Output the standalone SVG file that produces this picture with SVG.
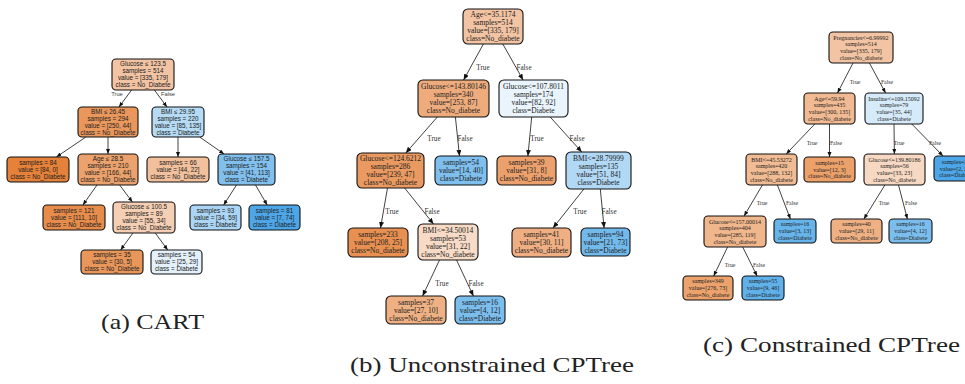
<svg xmlns="http://www.w3.org/2000/svg" width="965" height="384" viewBox="0 0 965 384">
<style>
rect.n{stroke:#111;stroke-width:1.1}
.ta{font-family:"Liberation Sans",Arial,sans-serif;font-size:6.3px;fill:#222;text-anchor:middle}
.tb{font-family:"Liberation Serif","Times New Roman",serif;font-size:7.5px;fill:#222;text-anchor:middle}
.tc{font-family:"Liberation Serif","Times New Roman",serif;font-size:6px;fill:#222;text-anchor:middle}
.la{font-family:"Liberation Sans",Arial,sans-serif;font-size:5.8px;fill:#444;text-anchor:middle}
.lb{font-family:"Liberation Serif","Times New Roman",serif;font-size:7.2px;fill:#333;text-anchor:middle}
.lc{font-family:"Liberation Serif","Times New Roman",serif;font-size:5.8px;fill:#333;text-anchor:middle}
.e{stroke:#111;stroke-width:0.8;fill:none}
.ea{marker-end:url(#ma)}
.eb{marker-end:url(#mb)}
.ec{marker-end:url(#mc)}
.cap{font-family:"Liberation Serif","DejaVu Serif",serif;font-size:21px;fill:#222}
</style>
<defs>
<marker id="ma" markerUnits="userSpaceOnUse" markerWidth="6" markerHeight="5" refX="5" refY="2" orient="auto"><path d="M0,0 L5,2 L0,4 z" fill="#111"/></marker>
<marker id="mb" markerUnits="userSpaceOnUse" markerWidth="7" markerHeight="6" refX="6" refY="2.5" orient="auto"><path d="M0,0 L6,2.5 L0,5 z" fill="#111"/></marker>
<marker id="mc" markerUnits="userSpaceOnUse" markerWidth="6" markerHeight="5" refX="5" refY="2" orient="auto"><path d="M0,0 L5,2 L0,4 z" fill="#111"/></marker>
</defs>

<!-- connectors -->
<g id="connectors">
<line class="e ea" x1="131.6" y1="90" x2="119" y2="107"/>
<line class="e ea" x1="154.4" y1="90" x2="167" y2="107"/>
<line class="e ea" x1="85.9" y1="137" x2="56.4" y2="157"/>
<line class="e ea" x1="108" y1="137" x2="108" y2="154"/>
<line class="e ea" x1="178" y1="137" x2="178" y2="157"/>
<line class="e ea" x1="199.6" y1="137" x2="224.1" y2="154"/>
<line class="e ea" x1="97" y1="185" x2="82.9" y2="205"/>
<line class="e ea" x1="119.6" y1="185" x2="132.4" y2="202"/>
<line class="e ea" x1="236.5" y1="185" x2="223.6" y2="205"/>
<line class="e ea" x1="255.5" y1="185" x2="267.2" y2="205"/>
<line class="e ea" x1="132.9" y1="233" x2="120.6" y2="250"/>
<line class="e ea" x1="155.3" y1="233" x2="167.7" y2="250"/>
<text class="la" x="117" y="96">True</text>
<text class="la" x="168" y="96">False</text>

<line class="e eb" x1="483.4" y1="44" x2="463.6" y2="80"/>
<line class="e eb" x1="502.8" y1="44" x2="523.1" y2="80"/>
<line class="e eb" x1="437.3" y1="117" x2="405.8" y2="153"/>
<line class="e eb" x1="455.4" y1="117" x2="459.5" y2="156"/>
<line class="e eb" x1="531.7" y1="117" x2="527.9" y2="156"/>
<line class="e eb" x1="550.2" y1="117" x2="581.8" y2="152"/>
<line class="e eb" x1="387.5" y1="188" x2="380.5" y2="228"/>
<line class="e eb" x1="404.6" y1="188" x2="433.5" y2="224"/>
<line class="e eb" x1="583.9" y1="189" x2="553" y2="228"/>
<line class="e eb" x1="600.3" y1="189" x2="604.1" y2="228"/>
<line class="e eb" x1="439.5" y1="260" x2="422.6" y2="296"/>
<line class="e eb" x1="456.5" y1="260" x2="473.4" y2="296"/>
<text class="lb" x="483" y="69.5">True</text>
<text class="lb" x="524" y="69.5">False</text>
<text class="lb" x="434" y="140.5">True</text>
<text class="lb" x="465" y="140.5">False</text>
<text class="lb" x="537" y="140.5">True</text>
<text class="lb" x="577" y="140.5">False</text>
<text class="lb" x="392" y="213.5">True</text>
<text class="lb" x="432" y="213.5">False</text>
<text class="lb" x="580" y="213.5">True</text>
<text class="lb" x="609" y="213.5">False</text>
<text class="lb" x="442" y="285.5">True</text>
<text class="lb" x="476" y="285.5">False</text>

<line class="e ec" x1="853" y1="63" x2="837.5" y2="93"/>
<line class="e ec" x1="869.4" y1="63" x2="885.6" y2="93"/>
<line class="e ec" x1="814.8" y1="124" x2="786.2" y2="154"/>
<line class="e ec" x1="829.5" y1="124" x2="829.5" y2="157"/>
<line class="e ec" x1="894" y1="124" x2="894.4" y2="154"/>
<line class="e ec" x1="911.8" y1="124" x2="943" y2="156"/>
<line class="e ec" x1="762.4" y1="185" x2="744.1" y2="216"/>
<line class="e ec" x1="777.4" y1="185" x2="790.4" y2="219"/>
<line class="e ec" x1="884.9" y1="185" x2="863.9" y2="219"/>
<line class="e ec" x1="898.5" y1="185" x2="907.4" y2="219"/>
<line class="e ec" x1="727.6" y1="247" x2="713.7" y2="276"/>
<line class="e ec" x1="742.7" y1="247" x2="757.1" y2="276"/>
<text class="lc" x="855" y="84">True</text>
<text class="lc" x="887" y="84">False</text>
<text class="lc" x="812" y="145">True</text>
<text class="lc" x="836" y="145">False</text>
<text class="lc" x="899" y="145">True</text>
<text class="lc" x="935" y="145">False</text>
<text class="lc" x="762" y="205">True</text>
<text class="lc" x="792" y="205">False</text>
<text class="lc" x="884" y="205">True</text>
<text class="lc" x="911" y="205">False</text>
<text class="lc" x="730" y="267">True</text>
<text class="lc" x="759" y="267">False</text>
</g>

<!-- Panel a: CART -->
<g id="a0"><rect class="n" x="112" y="59" width="62" height="31" rx="4" fill="#f3c4a3"/><text class="ta" x="143" y="66.2"><tspan x="143">Glucose ≤ 123.5</tspan><tspan x="143" dy="7">samples = 514</tspan><tspan x="143" dy="7">value = [335, 179]</tspan><tspan x="143" dy="7">class = No_Diabete</tspan></text></g>
<g id="a1"><rect class="n" x="78" y="107" width="60" height="30" rx="4" fill="#ea975c"/><text class="ta" x="108" y="113.7"><tspan x="108">BMI ≤ 26.45</tspan><tspan x="108" dy="7">samples = 294</tspan><tspan x="108" dy="7">value = [250, 44]</tspan><tspan x="108" dy="7">class = No_Diabete</tspan></text></g>
<g id="a2"><rect class="n" x="152" y="107" width="52" height="30" rx="4" fill="#b6dbf5"/><text class="ta" x="178" y="113.7"><tspan x="178">BMI ≤ 29.95</tspan><tspan x="178" dy="7">samples = 220</tspan><tspan x="178" dy="7">value = [85, 135]</tspan><tspan x="178" dy="7">class = Diabete</tspan></text></g>
<g id="a3"><rect class="n" x="7" y="157" width="62" height="25" rx="4" fill="#e58139"/><text class="ta" x="38" y="164.7"><tspan x="38">samples = 84</tspan><tspan x="38" dy="7">value = [84, 0]</tspan><tspan x="38" dy="7">class = No_Diabete</tspan></text></g>
<g id="a4"><rect class="n" x="78" y="154" width="60" height="31" rx="4" fill="#eca26d"/><text class="ta" x="108" y="161.2"><tspan x="108">Age ≤ 28.5</tspan><tspan x="108" dy="7">samples = 210</tspan><tspan x="108" dy="7">value = [166, 44]</tspan><tspan x="108" dy="7">class = No_Diabete</tspan></text></g>
<g id="a5"><rect class="n" x="147" y="157" width="62" height="25" rx="4" fill="#f2c09c"/><text class="ta" x="178" y="164.7"><tspan x="178">samples = 66</tspan><tspan x="178" dy="7">value = [44, 22]</tspan><tspan x="178" dy="7">class = No_Diabete</tspan></text></g>
<g id="a6"><rect class="n" x="218" y="154" width="57" height="31" rx="4" fill="#81c0ee"/><text class="ta" x="246.5" y="161.2"><tspan x="246.5">Glucose ≤ 157.5</tspan><tspan x="246.5" dy="7">samples = 154</tspan><tspan x="246.5" dy="7">value = [41, 113]</tspan><tspan x="246.5" dy="7">class = Diabete</tspan></text></g>
<g id="a7"><rect class="n" x="43" y="205" width="62" height="25" rx="4" fill="#e78c4b"/><text class="ta" x="74" y="212.7"><tspan x="74">samples = 121</tspan><tspan x="74" dy="7">value = [111, 10]</tspan><tspan x="74" dy="7">class = No_Diabete</tspan></text></g>
<g id="a8"><rect class="n" x="113" y="202" width="62" height="31" rx="4" fill="#f5cfb3"/><text class="ta" x="144" y="209.2"><tspan x="144">Glucose ≤ 100.5</tspan><tspan x="144" dy="7">samples = 89</tspan><tspan x="144" dy="7">value = [55, 34]</tspan><tspan x="144" dy="7">class = No_Diabete</tspan></text></g>
<g id="a9"><rect class="n" x="190" y="205" width="51" height="25" rx="4" fill="#abd5f4"/><text class="ta" x="215.5" y="212.7"><tspan x="215.5">samples = 93</tspan><tspan x="215.5" dy="7">value = [34, 59]</tspan><tspan x="215.5" dy="7">class = Diabete</tspan></text></g>
<g id="a10"><rect class="n" x="249" y="205" width="51" height="25" rx="4" fill="#4ca6e7"/><text class="ta" x="274.5" y="212.7"><tspan x="274.5">samples = 81</tspan><tspan x="274.5" dy="7">value = [7, 74]</tspan><tspan x="274.5" dy="7">class = Diabete</tspan></text></g>
<g id="a11"><rect class="n" x="81" y="250" width="62" height="24" rx="4" fill="#e9965a"/><text class="ta" x="112" y="257.2"><tspan x="112">samples = 35</tspan><tspan x="112" dy="7">value = [30, 5]</tspan><tspan x="112" dy="7">class = No_Diabete</tspan></text></g>
<g id="a12"><rect class="n" x="151" y="250" width="51" height="24" rx="4" fill="#e4f1fb"/><text class="ta" x="176.5" y="257.2"><tspan x="176.5">samples = 54</tspan><tspan x="176.5" dy="7">value = [25, 29]</tspan><tspan x="176.5" dy="7">class = Diabete</tspan></text></g>

<!-- Panel b: Unconstrained CPTree -->
<g id="b0"><rect class="n" x="463" y="9" width="60" height="35" rx="5" fill="#f3c4a3"/><text class="tb" x="493" y="17.1"><tspan x="493">Age&lt;=35.1174</tspan><tspan x="493" dy="8">samples=514</tspan><tspan x="493" dy="8">value=[335, 179]</tspan><tspan x="493" dy="8">class=No_diabete</tspan></text></g>
<g id="b1"><rect class="n" x="418" y="80" width="71" height="37" rx="5" fill="#eeac7d"/><text class="tb" x="453.5" y="89.1"><tspan x="453.5">Glucose&lt;=143.80146</tspan><tspan x="453.5" dy="8">samples=340</tspan><tspan x="453.5" dy="8">value=[253, 87]</tspan><tspan x="453.5" dy="8">class=No_diabete</tspan></text></g>
<g id="b2"><rect class="n" x="499" y="80" width="69" height="37" rx="5" fill="#e9f4fc"/><text class="tb" x="533.5" y="89.1"><tspan x="533.5">Glucose&lt;=107.8011</tspan><tspan x="533.5" dy="8">samples=174</tspan><tspan x="533.5" dy="8">value=[82, 92]</tspan><tspan x="533.5" dy="8">class=Diabete</tspan></text></g>
<g id="b3"><rect class="n" x="357" y="153" width="67" height="35" rx="5" fill="#ea9a60"/><text class="tb" x="390.5" y="161.1"><tspan x="390.5">Glucose&lt;=124.6212</tspan><tspan x="390.5" dy="8">samples=286</tspan><tspan x="390.5" dy="8">value=[239, 47]</tspan><tspan x="390.5" dy="8">class=No_diabete</tspan></text></g>
<g id="b4"><rect class="n" x="435" y="156" width="52" height="29" rx="5" fill="#7ebfee"/><text class="tb" x="461" y="165.1"><tspan x="461">samples=54</tspan><tspan x="461" dy="8">value=[14, 40]</tspan><tspan x="461" dy="8">class=Diabete</tspan></text></g>
<g id="b5"><rect class="n" x="497" y="156" width="59" height="29" rx="5" fill="#eca16c"/><text class="tb" x="526.5" y="165.1"><tspan x="526.5">samples=39</tspan><tspan x="526.5" dy="8">value=[31, 8]</tspan><tspan x="526.5" dy="8">class=No_diabete</tspan></text></g>
<g id="b6"><rect class="n" x="566" y="152" width="65" height="37" rx="5" fill="#b1d8f5"/><text class="tb" x="598.5" y="161.1"><tspan x="598.5">BMI&lt;=28.79999</tspan><tspan x="598.5" dy="8">samples=135</tspan><tspan x="598.5" dy="8">value=[51, 84]</tspan><tspan x="598.5" dy="8">class=Diabete</tspan></text></g>
<g id="b7"><rect class="n" x="348" y="228" width="60" height="29" rx="5" fill="#e89051"/><text class="tb" x="378" y="237.1"><tspan x="378">samples=233</tspan><tspan x="378" dy="8">value=[208, 25]</tspan><tspan x="378" dy="8">class=No_diabete</tspan></text></g>
<g id="b8"><rect class="n" x="418" y="224" width="60" height="36" rx="5" fill="#f8dbc6"/><text class="tb" x="448" y="232.6"><tspan x="448">BMI&lt;=34.50014</tspan><tspan x="448" dy="8">samples=53</tspan><tspan x="448" dy="8">value=[31, 22]</tspan><tspan x="448" dy="8">class=No_diabete</tspan></text></g>
<g id="b9"><rect class="n" x="512" y="228" width="59" height="29" rx="5" fill="#efaf82"/><text class="tb" x="541.5" y="237.1"><tspan x="541.5">samples=41</tspan><tspan x="541.5" dy="8">value=[30, 11]</tspan><tspan x="541.5" dy="8">class=No_diabete</tspan></text></g>
<g id="b10"><rect class="n" x="581" y="228" width="49" height="28" rx="5" fill="#72b9ec"/><text class="tb" x="605.5" y="236.6"><tspan x="605.5">samples=94</tspan><tspan x="605.5" dy="8">value=[21, 73]</tspan><tspan x="605.5" dy="8">class=Diabete</tspan></text></g>
<g id="b11"><rect class="n" x="386" y="296" width="60" height="28" rx="5" fill="#efb083"/><text class="tb" x="416" y="304.6"><tspan x="416">samples=37</tspan><tspan x="416" dy="8">value=[27, 10]</tspan><tspan x="416" dy="8">class=No_diabete</tspan></text></g>
<g id="b12"><rect class="n" x="455" y="296" width="50" height="28" rx="5" fill="#7bbeee"/><text class="tb" x="480" y="304.6"><tspan x="480">samples=16</tspan><tspan x="480" dy="8">value=[4, 12]</tspan><tspan x="480" dy="8">class=Diabete</tspan></text></g>

<!-- Panel c: Constrained CPTree -->
<g id="c0"><rect class="n" x="829" y="32" width="64" height="31" rx="4" fill="#f3c4a3"/><text class="tc" x="861" y="39.55"><tspan x="861">Pregnancies&lt;=6.99992</tspan><tspan x="861" dy="6.7">samples=514</tspan><tspan x="861" dy="6.7">value=[335, 179]</tspan><tspan x="861" dy="6.7">class=No_diabete</tspan></text></g>
<g id="c1"><rect class="n" x="804" y="93" width="51" height="31" rx="4" fill="#f1ba92"/><text class="tc" x="829.5" y="100.55"><tspan x="829.5">Age&lt;=59.94</tspan><tspan x="829.5" dy="6.7">samples=435</tspan><tspan x="829.5" dy="6.7">value=[300, 135]</tspan><tspan x="829.5" dy="6.7">class=No_diabete</tspan></text></g>
<g id="c2"><rect class="n" x="865" y="93" width="58" height="31" rx="4" fill="#d6ebfa"/><text class="tc" x="894" y="100.55"><tspan x="894">Insuline&lt;=109.15092</tspan><tspan x="894" dy="6.7">samples=79</tspan><tspan x="894" dy="6.7">value=[35, 44]</tspan><tspan x="894" dy="6.7">class=Diabete</tspan></text></g>
<g id="c3"><rect class="n" x="746" y="154" width="51" height="31" rx="4" fill="#f1bb94"/><text class="tc" x="771.5" y="161.55"><tspan x="771.5">BMI&lt;=45.53272</tspan><tspan x="771.5" dy="6.7">samples=420</tspan><tspan x="771.5" dy="6.7">value=[288, 132]</tspan><tspan x="771.5" dy="6.7">class=No_diabete</tspan></text></g>
<g id="c4"><rect class="n" x="804" y="157" width="51" height="25" rx="4" fill="#eca06a"/><text class="tc" x="829.5" y="164.9"><tspan x="829.5">samples=15</tspan><tspan x="829.5" dy="6.7">value=[12, 3]</tspan><tspan x="829.5" dy="6.7">class=No_diabete</tspan></text></g>
<g id="c5"><rect class="n" x="864" y="154" width="61" height="31" rx="4" fill="#f7d9c3"/><text class="tc" x="894.5" y="161.55"><tspan x="894.5">Glucose&lt;=139.80186</tspan><tspan x="894.5" dy="6.7">samples=56</tspan><tspan x="894.5" dy="6.7">value=[33, 23]</tspan><tspan x="894.5" dy="6.7">class=No_diabete</tspan></text></g>
<g id="c6"><rect class="n" x="934" y="156" width="44" height="25" rx="4" fill="#4ca6e7"/><text class="tc" x="956" y="163.9"><tspan x="956">samples=23</tspan><tspan x="956" dy="6.7">value=[2, 21]</tspan><tspan x="956" dy="6.7">class=Diabete</tspan></text></g>
<g id="c7"><rect class="n" x="704" y="216" width="62" height="31" rx="4" fill="#f0b68c"/><text class="tc" x="735" y="223.55"><tspan x="735">Glucose&lt;=157.00014</tspan><tspan x="735" dy="6.7">samples=404</tspan><tspan x="735" dy="6.7">value=[285, 119]</tspan><tspan x="735" dy="6.7">class=No_diabete</tspan></text></g>
<g id="c8"><rect class="n" x="774" y="219" width="42" height="24" rx="4" fill="#67b4eb"/><text class="tc" x="795" y="226.4"><tspan x="795">samples=16</tspan><tspan x="795" dy="6.7">value=[3, 13]</tspan><tspan x="795" dy="6.7">class=Diabete</tspan></text></g>
<g id="c9"><rect class="n" x="831" y="219" width="51" height="24" rx="4" fill="#efb184"/><text class="tc" x="856.5" y="226.4"><tspan x="856.5">samples=40</tspan><tspan x="856.5" dy="6.7">value=[29, 11]</tspan><tspan x="856.5" dy="6.7">class=No_diabete</tspan></text></g>
<g id="c10"><rect class="n" x="889" y="219" width="43" height="24" rx="4" fill="#7bbeee"/><text class="tc" x="910.5" y="226.4"><tspan x="910.5">samples=16</tspan><tspan x="910.5" dy="6.7">value=[4, 12]</tspan><tspan x="910.5" dy="6.7">class=Diabete</tspan></text></g>
<g id="c11"><rect class="n" x="683" y="276" width="50" height="24" rx="4" fill="#eca26d"/><text class="tc" x="708" y="283.4"><tspan x="708">samples=349</tspan><tspan x="708" dy="6.7">value=[276, 73]</tspan><tspan x="708" dy="6.7">class=No_diabete</tspan></text></g>
<g id="c12"><rect class="n" x="742" y="276" width="42" height="24" rx="4" fill="#60b0ea"/><text class="tc" x="763" y="283.4"><tspan x="763">samples=55</tspan><tspan x="763" dy="6.7">value=[9, 46]</tspan><tspan x="763" dy="6.7">class=Diabete</tspan></text></g>

<!-- captions -->
<text class="cap" x="101" y="329" textLength="103" lengthAdjust="spacingAndGlyphs">(a) CART</text>
<text class="cap" x="350" y="372" textLength="284" lengthAdjust="spacingAndGlyphs">(b) Unconstrained CPTree</text>
<text class="cap" x="703" y="352" textLength="257" lengthAdjust="spacingAndGlyphs">(c) Constrained CPTree</text>
</svg>
